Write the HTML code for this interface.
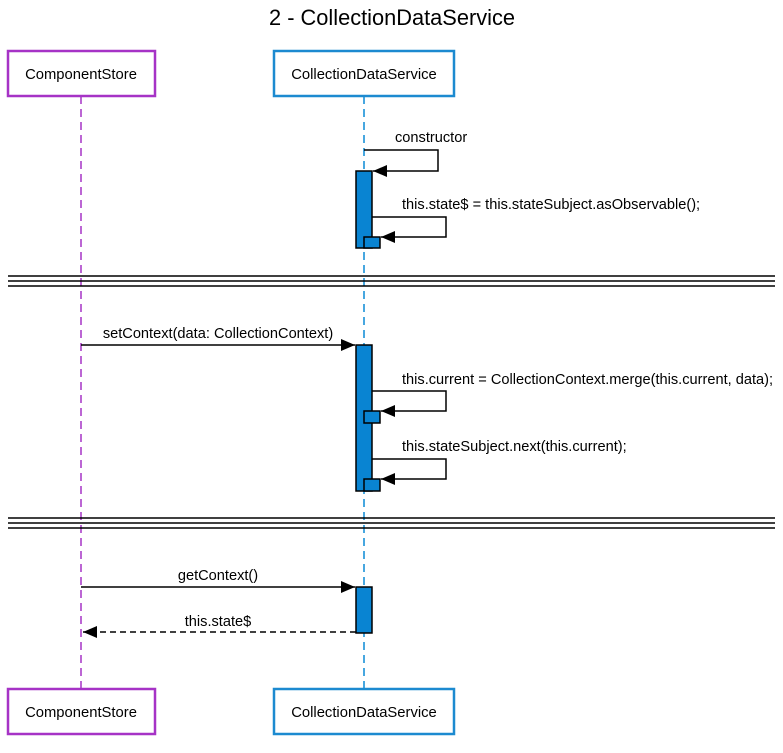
<!DOCTYPE html>
<html><head><style>body{margin:0;background:#fff}</style></head><body>
<svg width="783" height="748" xmlns="http://www.w3.org/2000/svg" font-family="Liberation Sans, sans-serif">
<defs><marker id="a" markerWidth="14" markerHeight="12" refX="14" refY="6" orient="auto" markerUnits="userSpaceOnUse"><path d="M0,0L14,6L0,12z" fill="#000"/></marker></defs>
<text x="392" y="25" font-size="21.8" text-anchor="middle">2 - CollectionDataService</text>
<line x1="81" y1="96" x2="81" y2="689" stroke="#a633c6" stroke-dasharray="8,5" stroke-width="1.5"/>
<line x1="364" y1="96" x2="364" y2="689" stroke="#0a8ad6" stroke-dasharray="8,5" stroke-width="1.5"/>
<g font-size="14.8" text-anchor="middle">
<rect x="8" y="51" width="147" height="45" fill="#fff" stroke="#a633c6" stroke-width="2.5"/><text x="81" y="79">ComponentStore</text>
<rect x="274" y="51" width="180" height="45" fill="#fff" stroke="#1c8ad0" stroke-width="2.5"/><text x="364" y="79">CollectionDataService</text>
<rect x="8" y="689" width="147" height="45" fill="#fff" stroke="#a633c6" stroke-width="2.5"/><text x="81" y="717">ComponentStore</text>
<rect x="274" y="689" width="180" height="45" fill="#fff" stroke="#1c8ad0" stroke-width="2.5"/><text x="364" y="717">CollectionDataService</text>
</g>
<g stroke="#000" stroke-width="1.5">
<line x1="8" y1="276" x2="775" y2="276"/><line x1="8" y1="281" x2="775" y2="281"/><line x1="8" y1="286" x2="775" y2="286"/>
<line x1="8" y1="518" x2="775" y2="518"/><line x1="8" y1="523" x2="775" y2="523"/><line x1="8" y1="528" x2="775" y2="528"/>
</g>
<g fill="#0984d2" stroke="#000" stroke-width="1.5">
<rect x="356" y="171" width="16" height="77"/><rect x="364" y="237" width="16" height="11"/>
<rect x="356" y="345" width="16" height="146"/><rect x="364" y="411" width="16" height="12"/><rect x="364" y="479" width="16" height="12"/>
<rect x="356" y="587" width="16" height="46"/>
</g>
<g fill="none" stroke="#000" stroke-width="1.5">
<path d="M364,150H438V171H373" marker-end="url(#a)"/>
<path d="M372,217H446V237H381" marker-end="url(#a)"/>
<path d="M372,391H446V411H381" marker-end="url(#a)"/>
<path d="M372,459H446V479H381" marker-end="url(#a)"/>
<path d="M81,345H355" marker-end="url(#a)"/>
<path d="M81,587H355" marker-end="url(#a)"/>
<path d="M356,632H83" stroke-dasharray="6,4" marker-end="url(#a)"/>
</g>
<g font-size="14.6">
<text x="395" y="142">constructor</text>
<text x="402" y="209">this.state$ = this.stateSubject.asObservable();</text>
<text x="218" y="338" text-anchor="middle">setContext(data: CollectionContext)</text>
<text x="402" y="384">this.current = CollectionContext.merge(this.current, data);</text>
<text x="402" y="451">this.stateSubject.next(this.current);</text>
<text x="218" y="580" text-anchor="middle">getContext()</text>
<text x="218" y="626" text-anchor="middle">this.state$</text>
</g>
</svg>
</body></html>
